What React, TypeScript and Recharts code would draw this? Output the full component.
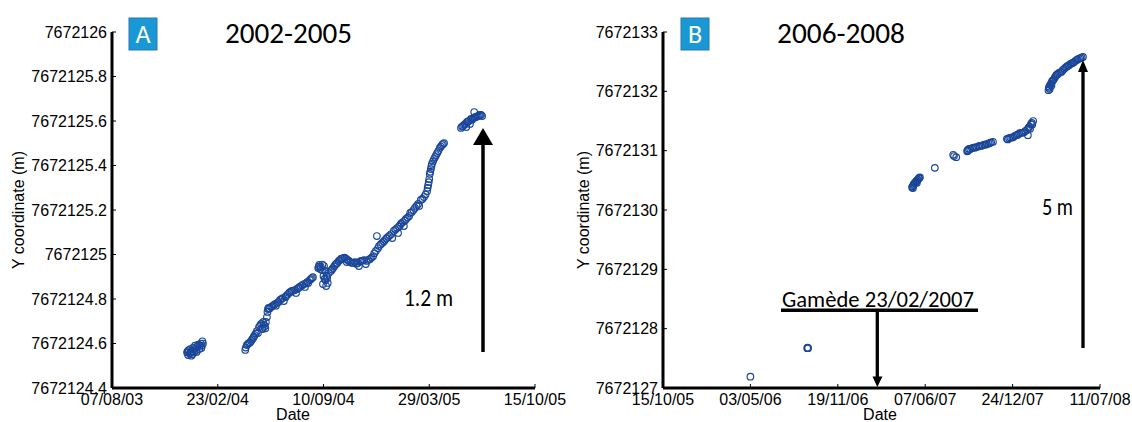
import React from 'react';
import { ScatterChart, Scatter, XAxis, YAxis } from 'recharts';

// ---------- Panel A (2002-2005) ----------
const panelAXTickLabels = ['07/08/03', '23/02/04', '10/09/04', '29/03/05', '15/10/05'];
const panelAYTicks = [7672124.4, 7672124.6, 7672124.8, 7672125, 7672125.2, 7672125.4, 7672125.6, 7672125.8, 7672126];
const panelAYTickLabels = ['7672124.4', '7672124.6', '7672124.8', '7672125', '7672125.2', '7672125.4', '7672125.6', '7672125.8', '7672126'];

const panelADates = [
  '2003-12-27', '2003-12-29', '2003-12-30', '2004-01-01', '2004-01-02', '2004-01-04', '2004-01-05', '2004-01-07',
  '2004-01-09', '2004-01-11', '2004-01-13', '2004-01-15', '2004-01-17', '2004-01-19', '2004-01-22', '2004-01-24', '2004-01-26',
  '2004-04-15', '2004-04-18', '2004-04-22', '2004-04-26', '2004-04-30', '2004-05-03', '2004-05-07', '2004-05-09',
  '2004-05-11', '2004-05-15', '2004-05-17', '2004-05-18', '2004-05-19', '2004-05-22', '2004-05-24', '2004-05-26',
  '2004-05-27', '2004-05-28', '2004-06-03', '2004-06-08', '2004-06-14', '2004-06-20', '2004-06-25', '2004-06-27',
  '2004-07-01', '2004-07-07', '2004-07-12', '2004-07-18', '2004-07-20', '2004-07-24', '2004-07-29', '2004-08-04',
  '2004-08-06', '2004-08-10', '2004-08-12', '2004-08-15', '2004-08-19',
  '2004-08-31', '2004-09-02', '2004-09-05', '2004-09-07', '2004-09-09', '2004-09-10', '2004-09-11', '2004-09-13',
  '2004-09-14', '2004-09-15', '2004-09-17', '2004-09-18', '2004-09-20',
  '2004-09-24', '2004-09-28', '2004-10-02', '2004-10-06', '2004-10-09', '2004-10-13', '2004-10-17', '2004-10-23',
  '2004-10-24', '2004-10-28', '2004-11-03', '2004-11-09', '2004-11-14', '2004-11-16', '2004-11-20', '2004-11-26',
  '2004-11-29', '2004-12-01', '2004-12-07', '2004-12-13', '2004-12-18', '2004-12-20', '2004-12-24', '2004-12-30',
  '2005-01-04', '2005-01-10', '2005-01-16', '2005-01-18', '2005-01-21', '2005-01-27', '2005-01-29', '2005-02-02',
  '2005-02-07', '2005-02-09', '2005-02-13', '2005-02-19', '2005-02-21', '2005-02-24', '2005-03-02', '2005-03-08',
  '2005-03-10', '2005-03-13', '2005-03-19', '2005-03-25', '2005-03-27', '2005-03-29', '2005-03-30', '2005-04-01',
  '2005-04-03', '2005-04-07', '2005-04-11', '2005-04-15', '2005-04-18', '2005-04-22', '2005-04-26',
  '2005-05-28', '2005-06-01', '2005-06-05', '2005-06-07', '2005-06-08', '2005-06-12', '2005-06-14', '2005-06-16',
  '2005-06-20', '2005-06-22', '2005-06-25', '2005-06-29', '2005-07-03', '2005-07-07',
  // second pass of readings
  '2003-12-28', '2004-01-03', '2004-01-06', '2004-01-10', '2004-01-14', '2004-01-20', '2004-01-25', '2004-01-23',
  '2004-04-16', '2004-04-20', '2004-04-24', '2004-04-28', '2004-05-01', '2004-05-05', '2004-05-13', '2004-05-20',
  '2004-05-23', '2004-05-29', '2004-05-31', '2004-06-05', '2004-06-10', '2004-06-12', '2004-06-17', '2004-06-22',
  '2004-06-30', '2004-07-04', '2004-07-09', '2004-07-15', '2004-07-22', '2004-07-26', '2004-08-01', '2004-08-08',
  '2004-08-17', '2004-08-21',
  '2004-09-01', '2004-09-04', '2004-09-08', '2004-09-12', '2004-09-16',
  '2004-09-26', '2004-09-30', '2004-10-04', '2004-10-11', '2004-10-15', '2004-10-20', '2004-10-26', '2004-10-31',
  '2004-11-06', '2004-11-11', '2004-11-18', '2004-11-23', '2004-12-04', '2004-12-10', '2004-12-15',
  '2004-12-22', '2004-12-27', '2005-01-02', '2005-01-07', '2005-01-13', '2005-01-24', '2005-01-31', '2005-02-04',
  '2005-02-11', '2005-02-16', '2005-02-27', '2005-03-05', '2005-03-16', '2005-03-22', '2005-03-26', '2005-03-28',
  '2005-03-31', '2005-04-02', '2005-04-05', '2005-04-09', '2005-04-13', '2005-04-20', '2005-04-24',
  '2005-05-30', '2005-06-03', '2005-06-10', '2005-06-18', '2005-06-23', '2005-06-27', '2005-07-01', '2005-07-05',
];
const panelAValues = [
  7672124.560, 7672124.548, 7672124.570, 7672124.555, 7672124.575, 7672124.545, 7672124.565, 7672124.580,
  7672124.560, 7672124.590, 7672124.570, 7672124.585, 7672124.595, 7672124.575, 7672124.600, 7672124.590, 7672124.600,
  7672124.571, 7672124.593, 7672124.602, 7672124.611, 7672124.625, 7672124.638, 7672124.656, 7672124.647,
  7672124.674, 7672124.688, 7672124.670, 7672124.665, 7672124.697, 7672124.679, 7672124.697, 7672124.719,
  7672124.742, 7672124.755, 7672124.764, 7672124.773, 7672124.782, 7672124.796, 7672124.804, 7672124.791,
  7672124.813, 7672124.827, 7672124.836, 7672124.840, 7672124.827, 7672124.849, 7672124.858, 7672124.867,
  7672124.854, 7672124.876, 7672124.872, 7672124.885, 7672124.894,
  7672124.939, 7672124.953, 7672124.944, 7672124.930, 7672124.867, 7672124.903, 7672124.948, 7672124.926,
  7672124.885, 7672124.858, 7672124.894, 7672124.872, 7672124.917,
  7672124.926, 7672124.939, 7672124.953, 7672124.962, 7672124.971, 7672124.980, 7672124.984, 7672124.980,
  7672124.966, 7672124.971, 7672124.962, 7672124.966, 7672124.962, 7672124.948, 7672124.971, 7672124.975,
  7672124.957, 7672124.971, 7672124.980, 7672124.993, 7672125.016, 7672125.083, 7672125.038, 7672125.052,
  7672125.065, 7672125.079, 7672125.092, 7672125.074, 7672125.106, 7672125.119, 7672125.097, 7672125.133,
  7672125.146, 7672125.128, 7672125.160, 7672125.173, 7672125.187, 7672125.191, 7672125.209, 7672125.227,
  7672125.218, 7672125.245, 7672125.258, 7672125.285, 7672125.312, 7672125.339, 7672125.362, 7672125.384,
  7672125.407, 7672125.429, 7672125.447, 7672125.465, 7672125.479, 7672125.492, 7672125.501,
  7672125.569, 7672125.578, 7672125.587, 7672125.573, 7672125.595, 7672125.600, 7672125.587, 7672125.609,
  7672125.613, 7672125.640, 7672125.618, 7672125.622, 7672125.627, 7672125.622,
  // second pass of readings
  7672124.565, 7672124.560, 7672124.552, 7672124.575, 7672124.562, 7672124.590, 7672124.610, 7672124.580,
  7672124.582, 7672124.598, 7672124.605, 7672124.618, 7672124.630, 7672124.645, 7672124.680, 7672124.685,
  7672124.668, 7672124.760, 7672124.757, 7672124.768, 7672124.777, 7672124.770, 7672124.787, 7672124.800,
  7672124.808, 7672124.820, 7672124.832, 7672124.838, 7672124.845, 7672124.852, 7672124.862, 7672124.870,
  7672124.889, 7672124.898,
  7672124.945, 7672124.935, 7672124.955, 7672124.890, 7672124.905,
  7672124.933, 7672124.946, 7672124.958, 7672124.975, 7672124.982, 7672124.986, 7672124.975, 7672124.966,
  7672124.963, 7672124.958, 7672124.968, 7672124.973, 7672124.976, 7672124.986, 7672125.005,
  7672125.028, 7672125.045, 7672125.058, 7672125.072, 7672125.085, 7672125.112, 7672125.126, 7672125.140,
  7672125.153, 7672125.166, 7672125.200, 7672125.218, 7672125.250, 7672125.270, 7672125.300, 7672125.325,
  7672125.372, 7672125.396, 7672125.418, 7672125.438, 7672125.456, 7672125.485, 7672125.497,
  7672125.575, 7672125.583, 7672125.598, 7672125.606, 7672125.616, 7672125.620, 7672125.625, 7672125.628,
];

// ---------- Panel B (2006-2008) ----------
const panelBXTickLabels = ['15/10/05', '03/05/06', '19/11/06', '07/06/07', '24/12/07', '11/07/08'];
const panelBYTicks = [7672127, 7672128, 7672129, 7672130, 7672131, 7672132, 7672133];
const panelBYTickLabels = ['7672127', '7672128', '7672129', '7672130', '7672131', '7672132', '7672133'];

const panelBDates = [
  '2006-05-03', '2006-09-10', '2006-09-11', '2006-09-12',
  '2007-05-08', '2007-05-11', '2007-05-14', '2007-05-17', '2007-05-20', '2007-05-23', '2007-05-26',
  '2007-06-29', '2007-08-10', '2007-08-17',
  '2007-09-11', '2007-09-13', '2007-09-15', '2007-09-22', '2007-09-29', '2007-10-06', '2007-10-13', '2007-10-20',
  '2007-10-26', '2007-11-02', '2007-11-09',
  '2007-12-11', '2007-12-16', '2007-12-23', '2007-12-29', '2008-01-05', '2008-01-12', '2008-01-19', '2008-01-26',
  '2008-01-28', '2008-01-31', '2008-02-02', '2008-02-04', '2008-02-09',
  '2008-03-15', '2008-03-16', '2008-03-19', '2008-03-23', '2008-03-26', '2008-03-30', '2008-04-03', '2008-04-08',
  '2008-04-14', '2008-04-20', '2008-04-26', '2008-05-01', '2008-05-07', '2008-05-12', '2008-05-19', '2008-05-24',
  '2008-05-30', '2008-06-02',
  // second pass of readings
  '2007-05-09', '2007-05-12', '2007-05-15', '2007-05-18', '2007-05-21', '2007-05-24', '2007-05-10', '2007-05-19',
  '2007-08-12',
  '2007-09-18', '2007-09-25', '2007-10-02', '2007-10-09', '2007-10-16', '2007-10-23', '2007-10-30', '2007-11-05',
  '2007-09-12',
  '2007-12-13', '2007-12-19', '2007-12-26', '2008-01-02', '2008-01-08', '2008-01-15', '2008-01-22', '2008-01-29',
  '2008-02-06', '2008-02-07',
  '2008-03-17', '2008-03-21', '2008-03-24', '2008-03-28', '2008-04-01', '2008-04-05', '2008-04-11', '2008-04-17',
  '2008-04-23', '2008-04-29', '2008-05-04', '2008-05-10', '2008-05-15', '2008-05-21', '2008-05-27', '2008-03-18',
  '2008-03-22',
];
const panelBValues = [
  7672127.19, 7672127.67, 7672127.68, 7672127.67,
  7672130.38, 7672130.42, 7672130.45, 7672130.48, 7672130.50, 7672130.53, 7672130.55,
  7672130.71, 7672130.93, 7672130.89,
  7672130.99, 7672131.00, 7672131.03, 7672131.04, 7672131.05, 7672131.07, 7672131.08, 7672131.10,
  7672131.11, 7672131.13, 7672131.15,
  7672131.20, 7672131.21, 7672131.22, 7672131.25, 7672131.27, 7672131.30, 7672131.31, 7672131.35,
  7672131.26, 7672131.40, 7672131.37, 7672131.45, 7672131.50,
  7672132.02, 7672132.06, 7672132.11, 7672132.16, 7672132.19, 7672132.24, 7672132.28, 7672132.31,
  7672132.33, 7672132.38, 7672132.42, 7672132.44, 7672132.47, 7672132.49, 7672132.53, 7672132.55,
  7672132.57, 7672132.58,
  // second pass of readings
  7672130.40, 7672130.44, 7672130.46, 7672130.49, 7672130.51, 7672130.54, 7672130.37, 7672130.46,
  7672130.91,
  7672131.03, 7672131.05, 7672131.06, 7672131.08, 7672131.09, 7672131.10, 7672131.12, 7672131.14,
  7672131.01,
  7672131.19, 7672131.22, 7672131.23, 7672131.26, 7672131.29, 7672131.30, 7672131.33, 7672131.38,
  7672131.47, 7672131.44,
  7672132.08, 7672132.13, 7672132.18, 7672132.21, 7672132.26, 7672132.29, 7672132.32, 7672132.36,
  7672132.40, 7672132.43, 7672132.46, 7672132.48, 7672132.51, 7672132.54, 7672132.56, 7672132.04,
  7672132.10,
];

// ---------- helpers ----------
const DAY = 86400000;
const dayFromDMY = (s: string) => {
  const [d, m, y] = s.split('/').map(Number);
  return Date.UTC(2000 + y, m - 1, d) / DAY;
};
const dayFromISO = (s: string) => {
  const [y, m, d] = s.split('-').map(Number);
  return Date.UTC(y, m - 1, d) / DAY;
};
const buildData = (dates: string[], values: number[]) =>
  dates.map((d, i) => ({ x: dayFromISO(d), y: values[i] }));

const TICK_FONT = '"Liberation Sans", Arial, sans-serif';
const CAL_FONT = 'Carlito, Lato, "Open Sans", sans-serif';
const MARK = '#1a4699';

const Ring = (props: any) => {
  if (props.cx == null || props.cy == null) return null;
  return <circle cx={props.cx} cy={props.cy} r={3.3} fill="none" stroke={MARK} strokeWidth={1.15} />;
};

const findIndex = (arr: number[], v: number) => {
  let best = 0;
  for (let i = 0; i < arr.length; i++) if (Math.abs(arr[i] - v) < Math.abs(arr[best] - v)) best = i;
  return best;
};

type PanelProps = {
  left: number;
  width: number;
  plotLeft: number;
  plotRight: number;
  xLabels: string[];
  yTicks: number[];
  yLabels: string[];
  data: { x: number; y: number }[];
};

function Panel({ left, width, plotLeft, plotRight, xLabels, yTicks, yLabels, data }: PanelProps) {
  const xt = xLabels.map(dayFromDMY);
  const XTick = (p: any) => {
    const i = findIndex(xt, p.payload.value);
    const axisY = p.y - 6;
    return (
      <g>
        <line x1={p.x} x2={p.x} y1={axisY} y2={axisY - 4} stroke="#000" strokeWidth={1} />
        <text x={p.x} y={p.y} dy="0.71em" textAnchor="middle" fontSize={16} fontFamily={TICK_FONT} fill="#000">
          {xLabels[i]}
        </text>
      </g>
    );
  };
  const YTick = (p: any) => {
    const i = findIndex(yTicks, p.payload.value);
    const axisX = p.x + 5;
    return (
      <g>
        <line x1={axisX} x2={axisX + 4} y1={p.y} y2={p.y} stroke="#000" strokeWidth={1} />
        <text x={p.x} y={p.y} dy="0.36em" textAnchor="end" fontSize={16} fontFamily={TICK_FONT} fill="#000">
          {yLabels[i]}
        </text>
      </g>
    );
  };
  return (
    <div style={{ position: 'absolute', left, top: 0 }}>
      <ScatterChart
        width={width}
        height={422}
        margin={{ top: 32, right: width - plotRight, bottom: 0, left: plotLeft - 100 }}
      >
        <XAxis
          type="number"
          dataKey="x"
          domain={[xt[0], xt[xt.length - 1]]}
          ticks={xt}
          interval={0}
          allowDataOverflow
          height={34}
          tickSize={0}
          tickMargin={6}
          tickLine={false}
          axisLine={{ stroke: '#000', strokeWidth: 3 }}
          tick={XTick}
        />
        <YAxis
          type="number"
          dataKey="y"
          domain={[yTicks[0], yTicks[yTicks.length - 1]]}
          ticks={yTicks}
          interval={0}
          allowDataOverflow
          width={100}
          tickSize={0}
          tickMargin={5}
          tickLine={false}
          axisLine={{ stroke: '#000', strokeWidth: 3 }}
          tick={YTick}
        />
        <Scatter data={data} shape={Ring} isAnimationActive={false} />
      </ScatterChart>
    </div>
  );
}

export default function App() {
  const dataA = buildData(panelADates, panelAValues);
  const dataB = buildData(panelBDates, panelBValues);
  return (
    <div style={{ position: 'absolute', left: 0, top: 0, width: 1132, height: 422, background: '#fff', overflow: 'hidden' }}>
      <Panel
        left={0}
        width={585}
        plotLeft={112}
        plotRight={535}
        xLabels={panelAXTickLabels}
        yTicks={panelAYTicks}
        yLabels={panelAYTickLabels}
        data={dataA}
      />
      <Panel
        left={560}
        width={572}
        plotLeft={103}
        plotRight={540}
        xLabels={panelBXTickLabels}
        yTicks={panelBYTicks}
        yLabels={panelBYTickLabels}
        data={dataB}
      />
      <svg width={1132} height={422} style={{ position: 'absolute', left: 0, top: 0, pointerEvents: 'none' }}>
        {/* axis titles */}
        <text x={18.5} y={210} transform="rotate(-90 18.5 210)" textAnchor="middle" dominantBaseline="central" fontSize={16} fontFamily={TICK_FONT}>
          Y coordinate (m)
        </text>
        <text x={583} y={210} transform="rotate(-90 583 210)" textAnchor="middle" dominantBaseline="central" fontSize={16} fontFamily={TICK_FONT}>
          Y coordinate (m)
        </text>
        <text x={293} y={420} textAnchor="middle" fontSize={16} fontFamily={TICK_FONT}>Date</text>
        <text x={880} y={420} textAnchor="middle" fontSize={16} fontFamily={TICK_FONT}>Date</text>

        {/* panel labels */}
        <rect x={129} y={18} width={28} height={32} fill="#1a98d5" stroke="#2878b0" strokeWidth={1} />
        <text x={143} y={43} textAnchor="middle" fontSize={26} fontFamily={CAL_FONT} fill="#fff">A</text>
        <rect x={681} y={18} width={28} height={32} fill="#1a98d5" stroke="#2878b0" strokeWidth={1} />
        <text x={695} y={43} textAnchor="middle" fontSize={26} fontFamily={CAL_FONT} fill="#fff">B</text>

        {/* titles */}
        <text x={225} y={43} fontSize={28} fontFamily={CAL_FONT} textLength={127} lengthAdjust="spacingAndGlyphs">2002-2005</text>
        <text x={777} y={43} fontSize={28} fontFamily={CAL_FONT} textLength={128} lengthAdjust="spacingAndGlyphs">2006-2008</text>

        {/* panel A arrow */}
        <line x1={483} x2={483} y1={352} y2={143} stroke="#000" strokeWidth={3.5} />
        <polygon points="473,145 493,145 483,128" fill="#000" />
        <text x={404} y={306} fontSize={24} fontFamily={CAL_FONT} textLength={49} lengthAdjust="spacingAndGlyphs">1.2 m</text>

        {/* panel B arrow */}
        <line x1={1083} x2={1083} y1={348} y2={70} stroke="#000" strokeWidth={3.3} />
        <polygon points="1078,72 1088,72 1083,60" fill="#000" />
        <text x={1042} y={215} fontSize={24} fontFamily={CAL_FONT} textLength={31} lengthAdjust="spacingAndGlyphs">5 m</text>

        {/* Gamède annotation */}
        <text x={782} y={307} fontSize={22} fontFamily={CAL_FONT} textLength={192} lengthAdjust="spacingAndGlyphs">Gamède 23/02/2007</text>
        <line x1={781} x2={978} y1={310.3} y2={310.3} stroke="#000" strokeWidth={3.5} />
        <line x1={877.3} x2={877.3} y1={310} y2={378} stroke="#000" strokeWidth={3.3} />
        <polygon points="872.5,376.5 882.5,376.5 877.3,387" fill="#000" />
      </svg>
    </div>
  );
}
